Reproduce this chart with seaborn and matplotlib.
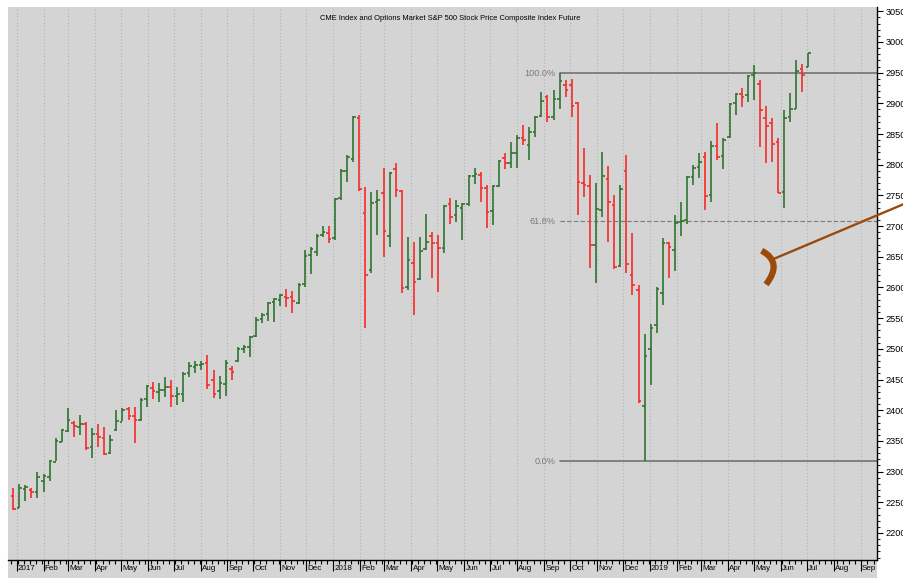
import matplotlib
matplotlib.use("Agg")
import matplotlib.pyplot as plt
import matplotlib.dates as mdates
import matplotlib.ticker as mticker
from matplotlib import font_manager as fm
from matplotlib.path import Path
from matplotlib.patches import PathPatch, Rectangle
import seaborn as sns
import pandas as pd
import numpy as np

# weekly bars, one per week (plotted mid-week)
weeks = pd.date_range("2016-12-28", periods=132, freq="7D")

opens = [2261, 2241, 2272, 2270, 2266, 2285, 2291, 2316, 2348, 2366,
         2380, 2372, 2378, 2340, 2362, 2355, 2330, 2368, 2381, 2402,
         2390, 2384, 2418, 2437, 2430, 2433, 2438, 2423, 2427, 2460,
         2470, 2473, 2477, 2449, 2432, 2443, 2468, 2480, 2500, 2503,
         2521, 2548, 2556, 2576, 2580, 2585, 2584, 2575, 2605, 2653,
         2658, 2685, 2689, 2681, 2745, 2790, 2810, 2876, 2722, 2628,
         2740, 2754, 2684, 2793, 2757, 2600, 2640, 2614, 2662, 2684,
         2672, 2664, 2736, 2718, 2730, 2736, 2782, 2783, 2762, 2724,
         2765, 2811, 2803, 2819, 2843, 2832, 2853, 2880, 2910, 2878,
         2907, 2930, 2930, 2900, 2770, 2766, 2670, 2726, 2777, 2734,
         2635, 2790, 2620, 2596, 2407, 2500, 2539, 2591, 2673, 2661,
         2706, 2710, 2780, 2796, 2813, 2750, 2830, 2815, 2845, 2900,
         2915, 2913, 2947, 2932, 2876, 2868, 2837, 2756, 2878, 2891,
         2956, 2959]
highs = [2273, 2280, 2278, 2273, 2300, 2296, 2319, 2355, 2370, 2404,
         2383, 2392, 2381, 2371, 2378, 2373, 2360, 2400, 2404, 2405,
         2406, 2420, 2441, 2446, 2445, 2454, 2450, 2438, 2463, 2478,
         2480, 2480, 2490, 2466, 2456, 2482, 2472, 2503, 2507, 2521,
         2552, 2558, 2577, 2583, 2590, 2597, 2594, 2607, 2661, 2666,
         2687, 2700, 2700, 2746, 2793, 2816, 2880, 2881, 2764, 2756,
         2759, 2795, 2788, 2803, 2759, 2682, 2674, 2682, 2720, 2690,
         2686, 2735, 2745, 2743, 2738, 2783, 2795, 2788, 2767, 2767,
         2808, 2819, 2837, 2848, 2865, 2861, 2879, 2918, 2913, 2922,
         2949, 2938, 2940, 2902, 2827, 2783, 2770, 2821, 2798, 2751,
         2767, 2816, 2689, 2604, 2524, 2540, 2601, 2681, 2674, 2718,
         2739, 2781, 2800, 2819, 2821, 2839, 2868, 2843, 2900, 2917,
         2925, 2946, 2962, 2938, 2896, 2876, 2843, 2889, 2917, 2971,
         2964, 2982]
lows = [2237, 2241, 2252, 2257, 2257, 2266, 2285, 2317, 2348, 2365,
        2356, 2360, 2335, 2322, 2340, 2327, 2329, 2366, 2382, 2384,
        2347, 2382, 2405, 2418, 2414, 2421, 2406, 2408, 2414, 2454,
        2460, 2466, 2434, 2420, 2418, 2424, 2449, 2478, 2494, 2487,
        2519, 2542, 2545, 2544, 2570, 2568, 2558, 2573, 2600, 2622,
        2652, 2682, 2672, 2677, 2743, 2772, 2805, 2758, 2534, 2624,
        2686, 2650, 2666, 2747, 2591, 2596, 2555, 2612, 2661, 2615,
        2593, 2656, 2704, 2707, 2677, 2733, 2769, 2739, 2697, 2702,
        2764, 2793, 2795, 2795, 2832, 2808, 2845, 2877, 2870, 2873,
        2891, 2910, 2878, 2718, 2748, 2632, 2607, 2715, 2674, 2630,
        2633, 2624, 2588, 2412, 2317, 2441, 2526, 2572, 2615, 2627,
        2684, 2703, 2767, 2778, 2726, 2740, 2808, 2793, 2843, 2881,
        2894, 2902, 2905, 2829, 2803, 2805, 2754, 2730, 2870, 2891,
        2918, 2959]
closes = [2239, 2273, 2275, 2267, 2292, 2293, 2317, 2350, 2368, 2384,
          2374, 2377, 2338, 2361, 2356, 2329, 2352, 2382, 2400, 2391,
          2384, 2416, 2439, 2432, 2433, 2438, 2423, 2426, 2459, 2472,
          2473, 2476, 2441, 2427, 2444, 2477, 2463, 2500, 2503, 2519,
          2547, 2555, 2575, 2581, 2587, 2583, 2578, 2604, 2652, 2662,
          2684, 2690, 2679, 2744, 2790, 2813, 2877, 2760, 2620, 2738,
          2743, 2692, 2787, 2759, 2599, 2645, 2609, 2659, 2674, 2672,
          2664, 2733, 2715, 2732, 2736, 2782, 2785, 2762, 2723, 2765,
          2806, 2803, 2819, 2843, 2840, 2853, 2877, 2904, 2878, 2907,
          2936, 2922, 2895, 2772, 2767, 2670, 2728, 2782, 2740, 2633,
          2760, 2638, 2604, 2415, 2488, 2534, 2597, 2673, 2666, 2705,
          2708, 2780, 2795, 2805, 2749, 2830, 2813, 2841, 2899, 2915,
          2911, 2945, 2950, 2889, 2863, 2834, 2754, 2876, 2891, 2953,
          2946, 2982]

fib_pcts = [1.0, 0.618, 0.0]
fib_labels = ["100.0%", "61.8%", "0.0%"]
fib_styles = ["-", (0, (4, 2)), "-"]

month_names = ["Jan", "Feb", "Mar", "Apr", "May", "Jun",
               "Jul", "Aug", "Sep", "Oct", "Nov", "Dec"]

title = "CME Index and Options Market S&P 500 Stock Price Composite Index Future"

GREEN = "#2f742f"
RED = "#f62a2a"
BROWN = "#9a4a0c"
BG = "#d4d4d4"


def has_font(name):
    try:
        fm.findfont(fm.FontProperties(family=name), fallback_to_default=False)
        return True
    except Exception:
        return False


sns.set_theme(style="white")
if has_font("Liberation Sans Narrow"):
    plt.rcParams["font.family"] = ["Liberation Sans Narrow", "DejaVu Sans"]
    fs_title, fs_tick = 6.6, 7.0
else:
    plt.rcParams["font.family"] = ["Liberation Sans", "DejaVu Sans"]
    fs_title, fs_tick = 5.4, 5.8

df = pd.DataFrame({"date": weeks, "open": opens, "high": highs,
                   "low": lows, "close": closes})
df["color"] = np.where(df["close"] >= df["open"], GREEN, RED)

W, H = 904, 578
fig = plt.figure(figsize=(W / 100, H / 100), dpi=100)
fig.patch.set_facecolor("white")
# grey strip under the month labels (drawn behind the axes)
fig.patches.append(Rectangle((8 / W, 0), 869 / W, 18 / H, transform=fig.transFigure,
                             facecolor=BG, edgecolor="none", zorder=-1))
ax = fig.add_axes([8 / W, 1 - 560 / H, 869 / W, 553 / H])
ax.set_facecolor(BG)

# OHLC bars
dt = pd.Timedelta(days=3)
ax.vlines(df["date"], df["low"], df["high"], colors=df["color"], lw=1.2, zorder=3)
ax.hlines(df["open"], df["date"] - dt, df["date"], colors=df["color"], lw=1.2, zorder=3)
ax.hlines(df["close"], df["date"], df["date"] + dt, colors=df["color"], lw=1.2, zorder=3)

x0 = pd.Timestamp("2016-12-22")
x1 = pd.Timestamp("2019-09-20")
ax.set_xlim(x0, x1)
ax.set_ylim(2156, 3057)

# retracement from the Sep 2018 high to the Dec 2018 low
swing = df[(df["date"] >= "2018-09-01") & (df["date"] <= "2018-12-31")]
hi = swing["high"].max()
lo = swing["low"].min()
start = swing.loc[swing["high"].idxmax(), "date"]
for p, lab, ls in zip(fib_pcts, fib_labels, fib_styles):
    lvl = lo + p * (hi - lo)
    lw = 0.8 if p not in (0.0, 1.0) else 1.3
    sns.lineplot(x=[start, x1], y=[lvl, lvl], ax=ax, color="#7a7a7a",
                 lw=lw, linestyle=ls, zorder=2)
    ax.text(start - pd.Timedelta(days=5), lvl, lab, ha="right", va="center",
            fontsize=6.6, color="#7a7a7a")

# annotation bracket and pointer line
def pt(d, v):
    return (mdates.date2num(pd.Timestamp(d)), v)

verts = [pt("2019-05-10", 2660), pt("2019-06-04", 2641), pt("2019-05-15", 2605)]
bracket = PathPatch(Path(verts, [Path.MOVETO, Path.CURVE3, Path.CURVE3]),
                    facecolor="none", edgecolor=BROWN, lw=4.5, capstyle="butt",
                    zorder=5, clip_on=False)
ax.add_patch(bracket)
lx = [pd.Timestamp("2019-05-23"), pd.Timestamp("2019-10-21")]
ax.plot(lx, [2646, 2736], color=BROWN, lw=1.7, zorder=5, clip_on=False)

# right price axis
ax.yaxis.tick_right()
ax.yaxis.set_major_locator(mticker.MultipleLocator(50))
ax.yaxis.set_minor_locator(mticker.MultipleLocator(10))
ax.yaxis.set_major_formatter(mticker.FormatStrFormatter("%d"))
ax.tick_params(axis="y", which="major", length=4.5, width=0.8, pad=1.5,
               labelsize=6.6, colors="black", right=True, left=False)
ax.tick_params(axis="y", which="minor", length=2, width=0.8, right=True, left=False)

# month axis: ticks at month starts, labels just right of each tick
ax.xaxis.set_major_locator(mdates.MonthLocator())
ax.xaxis.set_minor_locator(mdates.WeekdayLocator(byweekday=mdates.MO))
ax.xaxis.set_major_formatter(mticker.NullFormatter())
ax.tick_params(axis="x", which="major", length=8, width=0.8, bottom=True, colors="black")
ax.tick_params(axis="x", which="minor", length=3, width=0.8, bottom=True, colors="black")
months = pd.date_range("2017-01-01", "2019-09-01", freq="MS")
for m in months:
    lab = str(m.year) if m.month == 1 else month_names[m.month - 1]
    ax.text(m + pd.Timedelta(days=1.5), -0.009, lab, transform=ax.get_xaxis_transform(),
            ha="left", va="top", fontsize=fs_tick, color="black", zorder=6)

ax.grid(axis="x", which="major", linestyle=(0, (1, 2)), color="#b4b4b4", lw=0.8)
ax.grid(axis="y", visible=False)
for side in ["left", "top"]:
    ax.spines[side].set_visible(False)
for side in ["right", "bottom"]:
    ax.spines[side].set_color("black")
    ax.spines[side].set_linewidth(1.0)
ax.set_xlabel("")
ax.set_ylabel("")

fig.text(450 / W, 1 - 19 / H, title, ha="center", va="center",
         fontsize=fs_title, color="black")

fig.savefig("out.png", dpi=100, facecolor=fig.get_facecolor())
